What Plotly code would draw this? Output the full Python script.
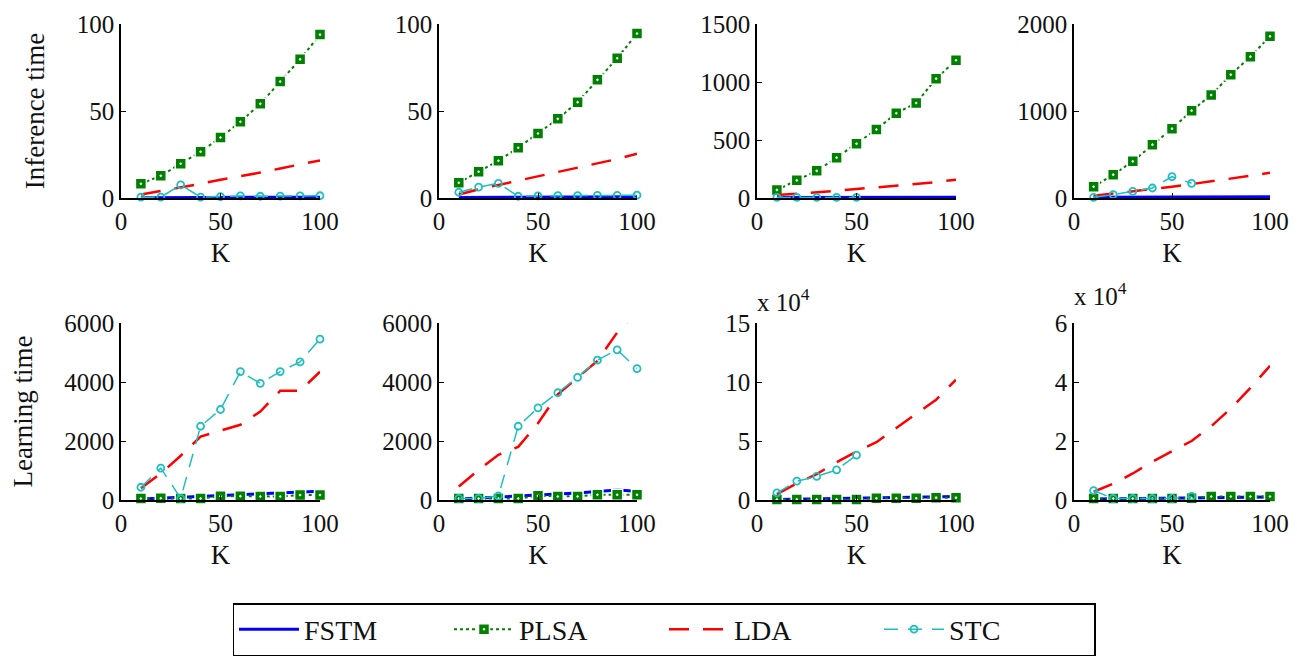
import plotly.graph_objects as go

K = [10, 20, 30, 40, 50, 60, 70, 80, 90, 100]

# ---- Inference time (top row) ----
inf1_fstm = [0.2, 0.2, 0.3, 0.3, 0.3, 0.4, 0.4, 0.4, 0.5, 0.5]
inf1_plsa = [8.2, 12.8, 19.7, 26.6, 34.8, 43.8, 54.1, 66.9, 79.7, 93.9]
inf1_lda = [2.0, 4.0, 6.2, 8.2, 10.5, 12.5, 14.6, 17.0, 19.2, 21.6]
inf1_stc = [0.5, 0.5, 7.5, 0.5, 0.8, 1.2, 1.0, 1.1, 1.2, 1.3]

inf2_fstm = [0.3, 0.3, 0.4, 0.4, 0.5, 0.5, 0.5, 0.6, 0.6, 0.7]
inf2_plsa = [8.8, 15.1, 21.4, 28.9, 37.1, 45.5, 55.1, 67.9, 80.3, 94.5]
inf2_lda = [2.0, 5.0, 7.5, 10.0, 12.5, 14.8, 17.2, 19.8, 22.4, 25.4]
inf2_stc = [3.3, 6.3, 8.4, 1.0, 1.2, 1.4, 1.4, 1.5, 1.5, 1.6]

inf3_fstm = [4, 4, 5, 5, 5, 6, 6, 6, 7, 7]
inf3_plsa = [70, 152, 234, 348, 468, 591, 731, 819, 1029, 1187]
inf3_lda = [25, 36, 50, 62, 77, 92, 106, 120, 137, 158]
inf3_stc = [5, 5, 5, 5, 5, None, None, None, None, None]

inf4_fstm = [8, 9, 10, 10, 11, 12, 12, 13, 13, 14]
inf4_plsa = [130, 268, 421, 613, 797, 1004, 1184, 1418, 1625, 1858]
inf4_lda = [25, 50, 75, 100, 130, 160, 190, 222, 255, 290]
inf4_stc = [8, 38, 77, 115, 245, 169, None, None, None, None]

# ---- Learning time (bottom row) ----
lrn1_fstm = [30, 60, 90, 120, 150, 180, 210, 240, 270, 300]
lrn1_plsa = [50, 60, 50, 50, 130, 130, 120, 120, 170, 170]
lrn1_lda = [400, 900, 1500, 2150, 2350, 2550, 3000, 3700, 3700, 4350]
lrn1_stc = [432, 1080, 57, 2500, 3068, 4352, 3955, 4352, 4682, 5455]

lrn2_fstm = [30, 60, 90, 120, 160, 200, 240, 290, 340, 300]
lrn2_plsa = [50, 50, 50, 50, 140, 120, 120, 180, 180, 180]
lrn2_lda = [455, 1020, 1534, 1800, 2600, 3580, 4150, 4716, 5680, 6400]
lrn2_stc = [55, 55, 136, 2500, 3125, 3636, 4159, 4739, 5091, 4455]

# values in units of 10^4
lrn3_fstm = [0.05, 0.08, 0.1, 0.12, 0.15, 0.18, 0.2, 0.23, 0.26, 0.3]
lrn3_plsa = [0.05, 0.05, 0.05, 0.05, 0.05, 0.15, 0.15, 0.15, 0.2, 0.2]
lrn3_lda = [0.5, 1.4, 2.2, 3.2, 4.1, 4.9, 6.1, 7.3, 8.5, 10.2]
lrn3_stc = [0.6, 1.6, 2.0, 2.55, 3.8, None, None, None, None, None]

lrn4_fstm = [0.03, 0.04, 0.05, 0.05, 0.06, 0.07, 0.08, 0.08, 0.09, 0.1]
lrn4_plsa = [0.05, 0.05, 0.05, 0.05, 0.05, 0.06, 0.12, 0.12, 0.12, 0.12]
lrn4_lda = [0.28, 0.55, 0.9, 1.3, 1.65, 2.0, 2.5, 3.1, 3.8, 4.55]
lrn4_stc = [0.32, 0.05, 0.05, 0.05, 0.05, 0.12, None, None, None, None]

panels = [
    (inf1_fstm, inf1_plsa, inf1_lda, inf1_stc, 100, 50),
    (inf2_fstm, inf2_plsa, inf2_lda, inf2_stc, 100, 50),
    (inf3_fstm, inf3_plsa, inf3_lda, inf3_stc, 1500, 500),
    (inf4_fstm, inf4_plsa, inf4_lda, inf4_stc, 2000, 1000),
    (lrn1_fstm, lrn1_plsa, lrn1_lda, lrn1_stc, 6000, 2000),
    (lrn2_fstm, lrn2_plsa, lrn2_lda, lrn2_stc, 6000, 2000),
    (lrn3_fstm, lrn3_plsa, lrn3_lda, lrn3_stc, 15, 5),
    (lrn4_fstm, lrn4_plsa, lrn4_lda, lrn4_stc, 6, 2),
]

OFF = 8  # page body margin
W, H = 1297 - 2 * OFF, 667 - 2 * OFF
FONT = "Liberation Serif"
xdoms_px = [(121, 320), (439, 637), (757, 956), (1074, 1270)]
ydoms_px = [(24, 198), (323, 500)]


def fx(px):
    return (px - OFF) / W


def fy(py):
    return 1 - (py - OFF) / H


fig = go.Figure()
layout = {}
for i, (fstm, plsa, lda, stc, ymax, dt) in enumerate(panels):
    r, c = divmod(i, 4)
    n = i + 1
    xa = "x" if n == 1 else f"x{n}"
    ya = "y" if n == 1 else f"y{n}"
    show = (i == 0)
    fig.add_trace(go.Scatter(x=K, y=fstm, name="FSTM", mode="lines",
                             line=dict(color="#0000FF", width=3),
                             xaxis=xa, yaxis=ya, showlegend=show, legendrank=1))
    fig.add_trace(go.Scatter(x=K, y=plsa, name="PLSA", mode="lines+markers",
                             line=dict(color="#008000", width=2, dash="dot"),
                             marker=dict(symbol="square-dot", size=11, color="#008000",
                                         line=dict(color="white", width=1.5)),
                             cliponaxis=False,
                             xaxis=xa, yaxis=ya, showlegend=show, legendrank=2))
    fig.add_trace(go.Scatter(x=K, y=lda, name="LDA", mode="lines",
                             line=dict(color="#FF0000", width=2.5, dash="20px,14px"),
                             xaxis=xa, yaxis=ya, showlegend=show, legendrank=3))
    fig.add_trace(go.Scatter(x=K, y=stc, name="STC", mode="lines+markers",
                             line=dict(color="#1FBFBF", width=1.5, dash="14px,10px"),
                             marker=dict(symbol="circle-open", size=7, color="#1FBFBF",
                                         line=dict(width=1.8)),
                             cliponaxis=False, connectgaps=False,
                             xaxis=xa, yaxis=ya, showlegend=show, legendrank=4))
    x0, x1 = xdoms_px[c]
    y0, y1 = ydoms_px[r]
    axstyle = dict(showline=True, linecolor="black", linewidth=1.5, showgrid=False,
                   zeroline=False, ticks="inside", ticklen=5, tickcolor="black",
                   automargin=False, ticklabeloverflow="allow",
                   tickfont=dict(family=FONT, size=25, color="#111"))
    layout["xaxis" if n == 1 else f"xaxis{n}"] = dict(
        axstyle, domain=[fx(x0), fx(x1)], range=[0, 100], tickvals=[0, 50, 100],
        anchor=ya, title=dict(text="K", font=dict(family=FONT, size=27, color="#111"), standoff=9))
    ydict = dict(axstyle, domain=[fy(y1), fy(y0)], range=[0, ymax], dtick=dt, anchor=xa)
    if c == 0:
        ytitle = "Inference time" if r == 0 else "Learning time"
        ydict["title"] = dict(text=ytitle, font=dict(family=FONT, size=27, color="#111"), standoff=24)
    layout["yaxis" if n == 1 else f"yaxis{n}"] = ydict

fig.update_layout(**layout)

fig.add_annotation(text="x 10<sup>4</sup>", xref="paper", yref="paper",
                   x=fx(755), y=fy(318), xanchor="left", yanchor="bottom",
                   showarrow=False, font=dict(family=FONT, size=25, color="#111"))
fig.add_annotation(text="x 10<sup>4</sup>", xref="paper", yref="paper",
                   x=fx(1072), y=fy(312), xanchor="left", yanchor="bottom",
                   showarrow=False, font=dict(family=FONT, size=25, color="#111"))

fig.update_layout(
    width=W, height=H,
    margin=dict(l=0, r=0, t=0, b=0),
    paper_bgcolor="white", plot_bgcolor="white",
    font=dict(family=FONT, color="#111"),
    legend=dict(orientation="h", x=fx(664), xanchor="center", y=fy(603), yanchor="top",
                bordercolor="black", borderwidth=1.5, bgcolor="white",
                font=dict(family=FONT, size=28, color="#111"),
                entrywidth=140, itemwidth=60, traceorder="normal"),
)

fig.write_html("out.html")
